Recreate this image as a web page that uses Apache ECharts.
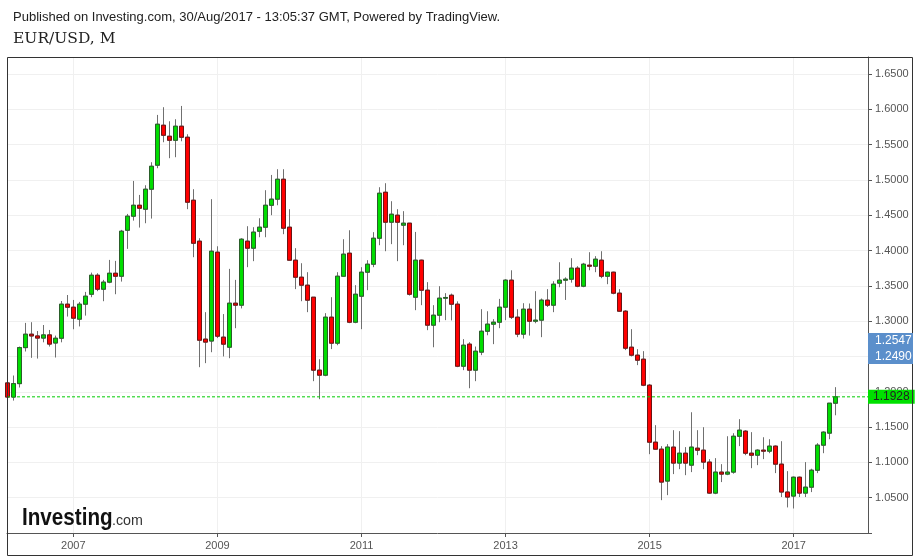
<!DOCTYPE html>
<html><head><meta charset="utf-8">
<script src="https://cdn.jsdelivr.net/npm/echarts@6/dist/echarts.min.js"></script>
<style>html,body{margin:0;padding:0;background:#fff}#c{width:920px;height:558px}</style>
</head><body><div id="c"></div>
<script>
const months = [
'2006-02','2006-03','2006-04','2006-05','2006-06','2006-07','2006-08','2006-09','2006-10','2006-11','2006-12',
'2007-01','2007-02','2007-03','2007-04','2007-05','2007-06','2007-07','2007-08','2007-09','2007-10','2007-11','2007-12',
'2008-01','2008-02','2008-03','2008-04','2008-05','2008-06','2008-07','2008-08','2008-09','2008-10','2008-11','2008-12',
'2009-01','2009-02','2009-03','2009-04','2009-05','2009-06','2009-07','2009-08','2009-09','2009-10','2009-11','2009-12',
'2010-01','2010-02','2010-03','2010-04','2010-05','2010-06','2010-07','2010-08','2010-09','2010-10','2010-11','2010-12',
'2011-01','2011-02','2011-03','2011-04','2011-05','2011-06','2011-07','2011-08','2011-09','2011-10','2011-11','2011-12',
'2012-01','2012-02','2012-03','2012-04','2012-05','2012-06','2012-07','2012-08','2012-09','2012-10','2012-11','2012-12',
'2013-01','2013-02','2013-03','2013-04','2013-05','2013-06','2013-07','2013-08','2013-09','2013-10','2013-11','2013-12',
'2014-01','2014-02','2014-03','2014-04','2014-05','2014-06','2014-07','2014-08','2014-09','2014-10','2014-11','2014-12',
'2015-01','2015-02','2015-03','2015-04','2015-05','2015-06','2015-07','2015-08','2015-09','2015-10','2015-11','2015-12',
'2016-01','2016-02','2016-03','2016-04','2016-05','2016-06','2016-07','2016-08','2016-09','2016-10','2016-11','2016-12',
'2017-01','2017-02','2017-03','2017-04','2017-05','2017-06','2017-07','2017-08'
];
const open = [
1.2125,1.1925,1.2115,1.2625,1.2815,1.2790,1.2760,1.2805,1.2690,1.2758,1.3240,
1.3197,1.3028,1.3240,1.3381,1.3650,1.3452,1.3552,1.3678,1.3636,1.4287,1.4486,1.4641,
1.4585,1.4868,1.5208,1.5774,1.5618,1.5561,1.5760,1.5604,1.4712,1.4132,1.2745,1.2718,
1.3976,1.2773,1.2631,1.3254,1.3226,1.4132,1.4033,1.4273,1.4330,1.4641,1.4727,1.5009,
1.4330,1.3863,1.3622,1.3509,1.3339,1.2306,1.2235,1.3056,1.2688,1.3636,1.3962,1.2985,
1.3353,1.3693,1.3806,1.4174,1.4825,1.4401,1.4500,1.4359,1.4387,1.3339,1.3863,1.3438,
1.2943,1.3084,1.3325,1.3367,1.3240,1.2362,1.2674,1.2306,1.2561,1.2857,1.2957,1.2985,
1.3198,1.3580,1.3056,1.2816,1.3169,1.2999,1.3014,1.3297,1.3226,1.3538,1.3580,1.3594,
1.3750,1.3495,1.3792,1.3778,1.3863,1.3636,1.3693,1.3396,1.3141,1.2631,1.2518,1.2461,
1.2093,1.1286,1.1187,1.0735,1.1216,1.0990,1.1130,1.0961,1.1201,1.1173,1.1004,1.0565,
1.0862,1.0834,1.0862,1.1370,1.1442,1.1130,1.1102,1.1173,1.1159,1.1230,1.0975,1.0580,
1.0523,1.0790,1.0565,1.0649,1.0889,1.1244,1.1414,1.1838
];
const close = [
1.1925,1.2115,1.2625,1.2815,1.2790,1.2760,1.2805,1.2675,1.2758,1.3240,1.3197,
1.3042,1.3240,1.3353,1.3650,1.3452,1.3552,1.3678,1.3636,1.4273,1.4486,1.4641,1.4599,
1.4868,1.5193,1.5788,1.5632,1.5561,1.5760,1.5604,1.4684,1.4103,1.2730,1.2703,1.3990,
1.2787,1.2674,1.3254,1.3226,1.4160,1.4033,1.4260,1.4330,1.4641,1.4727,1.5009,1.4316,
1.3863,1.3622,1.3509,1.3297,1.2306,1.2235,1.3056,1.2688,1.3636,1.3948,1.2985,1.3381,
1.3693,1.3806,1.4174,1.4811,1.4401,1.4514,1.4401,1.4387,1.3381,1.3863,1.3438,1.2943,
1.3084,1.3325,1.3335,1.3240,1.2362,1.2659,1.2306,1.2574,1.2857,1.2957,1.2985,1.3197,
1.3580,1.3056,1.2816,1.3169,1.2999,1.3014,1.3297,1.3226,1.3523,1.3580,1.3594,1.3750,
1.3495,1.3806,1.3778,1.3877,1.3636,1.3693,1.3396,1.3141,1.2617,1.2518,1.2447,1.2093,
1.1286,1.1187,1.0721,1.1216,1.0990,1.1130,1.0990,1.1216,1.1173,1.1004,1.0565,1.0862,
1.0834,1.0862,1.1370,1.1456,1.1130,1.1102,1.1173,1.1159,1.1230,1.0975,1.0580,1.0509,
1.0790,1.0565,1.0649,1.0889,1.1244,1.1428,1.1838,1.1928
];
const low = [
1.1840,1.1875,1.2060,1.2570,1.2480,1.2470,1.2700,1.2640,1.2485,1.2700,1.3065,
1.2885,1.2925,1.3078,1.3339,1.3424,1.3282,1.3537,1.3381,1.3560,1.4023,1.4423,1.4325,
1.4386,1.4452,1.5165,1.5533,1.5307,1.5321,1.5547,1.4585,1.3905,1.2348,1.2405,1.2560,
1.2760,1.2500,1.2475,1.2900,1.3180,1.3764,1.3849,1.4188,1.4188,1.4500,1.4641,1.4231,
1.3860,1.3453,1.3282,1.3127,1.2150,1.1895,1.2220,1.2604,1.2659,1.3630,1.2971,1.2970,
1.2886,1.3438,1.3764,1.4075,1.3990,1.4090,1.3849,1.4075,1.3362,1.3155,1.3226,1.2872,
1.2630,1.2985,1.3014,1.3010,1.2348,1.2306,1.2050,1.2150,1.2518,1.2800,1.2674,1.2900,
1.3014,1.3030,1.2773,1.2753,1.2795,1.2970,1.2773,1.3200,1.3127,1.3480,1.3300,1.3545,
1.3480,1.3480,1.3720,1.3693,1.3608,1.3523,1.3380,1.3130,1.2590,1.2500,1.2377,1.2079,
1.1116,1.1180,1.0465,1.0536,1.0834,1.0904,1.0819,1.0862,1.1102,1.0904,1.0555,1.0550,
1.0721,1.0819,1.0840,1.1230,1.1102,1.0918,1.0961,1.1046,1.1130,1.0848,1.0509,1.0362,
1.0347,1.0509,1.0509,1.0579,1.0848,1.1130,1.1328,1.1667
];
const high = [
1.2150,1.2230,1.2640,1.2975,1.2985,1.2860,1.2945,1.2875,1.2795,1.3285,1.3370,
1.3300,1.3272,1.3414,1.3687,1.3678,1.3584,1.3867,1.3853,1.4292,1.4518,1.4985,1.4787,
1.4924,1.5250,1.5920,1.6029,1.5830,1.5859,1.6047,1.5646,1.4868,1.4174,1.3127,1.4727,
1.4060,1.3100,1.3740,1.3584,1.4174,1.4344,1.4330,1.4457,1.4854,1.5070,1.5151,1.5151,
1.4585,1.4033,1.3820,1.3693,1.3339,1.2461,1.3113,1.3339,1.3693,1.4160,1.4287,1.3509,
1.3764,1.3863,1.4260,1.4896,1.4953,1.4698,1.4585,1.4557,1.4390,1.4263,1.3870,1.3552,
1.3226,1.3495,1.3396,1.3390,1.3280,1.2745,1.2702,1.2640,1.3169,1.3140,1.3028,1.3315,
1.3594,1.3720,1.3169,1.3254,1.3250,1.3424,1.3320,1.3453,1.3565,1.3834,1.3620,1.3891,
1.3778,1.3825,1.3976,1.3920,1.3990,1.3700,1.3700,1.3453,1.3155,1.2886,1.2603,1.2575,
1.2110,1.1527,1.1230,1.1258,1.1456,1.1442,1.1216,1.1710,1.1456,1.1498,1.1046,1.1060,
1.0975,1.1370,1.1413,1.1612,1.1456,1.1428,1.1185,1.1356,1.1328,1.1240,1.1300,1.0876,
1.0800,1.0800,1.1004,1.0910,1.1272,1.1440,1.1840,1.2065
];
const yearTicks = ['2007','2009','2011','2013','2015','2017'];
const lastPrice = 1.1928;
const badgePrices = ['1.2547','1.2490'];
const headerText = 'Published on Investing.com, 30/Aug/2017 - 13:05:37 GMT, Powered by TradingView.';
const symbolText = 'EUR/USD, M';

const X_MIN = 0.95, X_MAX = 144.38;
function monthIndex(s){ const p = s.split('-').map(Number); return (p[0]-2006)*12 + (p[1]-1); }
const xs = months.map(monthIndex);
const wickData = xs.map((x,i)=>[x, open[i], close[i], low[i], high[i]]);
const bodyData = xs.map((x,i)=>[x, open[i], close[i], Math.min(open[i],close[i]), Math.max(open[i],close[i])]);
const tickXs = yearTicks.map(y => monthIndex(y + '-01'));
const lastLine = [[X_MIN, lastPrice], [X_MAX, lastPrice]];

const SANS = '"Liberation Sans", Arial, sans-serif';
function fmtY(v){
  const k = Math.round(v / 0.05);
  if (Math.abs(v - k*0.05) > 1e-6 || v < 1.01 || v > 1.66) return '';
  return v.toFixed(4);
}

const chart = echarts.init(document.getElementById('c'), null, {renderer:'canvas'});
chart.setOption({
  animation:false,
  backgroundColor:'#ffffff',
  grid:{left:7, right:52, top:57, bottom:25, containLabel:false, outerBoundsMode:'none'},
  xAxis:{
    type:'value', min:X_MIN, max:X_MAX,
    axisLine:{show:true, onZero:false, lineStyle:{color:'#555'}},
    axisTick:{show:true, length:4, lineStyle:{color:'#555'}, customValues:tickXs},
    axisLabel:{customValues:tickXs, formatter:v => String(2006 + Math.round(v)/12), color:'#555', fontSize:11, fontFamily:SANS, margin:7},
    splitLine:{show:true, lineStyle:{color:'#f0f0f0'}}
  },
  yAxis:{
    type:'value', position:'right', min:1.0, max:1.674, interval:0.05,
    axisLine:{show:true, onZero:false, lineStyle:{color:'#555'}},
    axisTick:{show:true, length:4, lineStyle:{color:'#555'}},
    axisLabel:{formatter:fmtY, color:'#555', fontSize:11, fontFamily:SANS, margin:7, showMinLabel:true, showMaxLabel:true},
    splitLine:{show:true, lineStyle:{color:'#f0f0f0'}}
  },
  series:[
    {
      type:'candlestick', name:'wick', data:wickData, encode:{x:0, y:[1,2,3,4]},
      barWidth:4, silent:true,
      itemStyle:{color:'#707070', color0:'#707070', borderColor:'#707070', borderColor0:'#707070', borderWidth:1}
    },
    {
      type:'candlestick', name:'EUR/USD', data:bodyData, encode:{x:0, y:[1,2,3,4]},
      barWidth:4, silent:true,
      itemStyle:{color:'#00dd00', color0:'#ff0000', borderColor:'#2a5e2a', borderColor0:'#6b1414', borderWidth:1}
    },
    {
      type:'line', name:'last', data:lastLine, silent:true, z:5,
      showSymbol:false, symbol:'none', clip:false,
      itemStyle:{color:'#00cc00'},
      lineStyle:{color:'#00cc00', type:[3,2], width:1},
      endLabel:{show:true, distance:0, formatter:lastPrice.toFixed(4),
        backgroundColor:'#00e000', color:'#222', fontSize:12, fontFamily:SANS, padding:[1,5,1,5]}
    }
  ],
  graphic:[
    {type:'rect', z:50, shape:{x:7.5, y:57.5, width:905, height:498}, style:{fill:null, stroke:'#333', lineWidth:1}},
    {type:'text', z:50, x:13, y:17, style:{text:headerText, fill:'#222', font:'13px ' + SANS, verticalAlign:'middle'}},
    {type:'text', z:50, x:13, y:39, style:{text:symbolText, fill:'#222', font:'15.5px "DejaVu Serif", serif', verticalAlign:'middle'}},
    {type:'text', z:50, x:22, y:518, scaleX:0.86, style:{text:'Investing', fill:'#111', font:'bold 24px ' + SANS, verticalAlign:'middle'}},
    {type:'text', z:50, x:112, y:521, scaleX:0.95, style:{text:'.com', fill:'#333', font:'15px ' + SANS, verticalAlign:'middle'}},
    {type:'rect', z:60, shape:{x:868, y:333, width:45, height:31}, style:{fill:'#5b8fcb'}},
    {type:'text', z:61, x:875, y:341, style:{text:badgePrices[0], fill:'#fff', font:'12px ' + SANS, verticalAlign:'middle'}},
    {type:'text', z:61, x:875, y:357, style:{text:badgePrices[1], fill:'#fff', font:'12px ' + SANS, verticalAlign:'middle'}}
  ]
});
</script>
</body></html>
